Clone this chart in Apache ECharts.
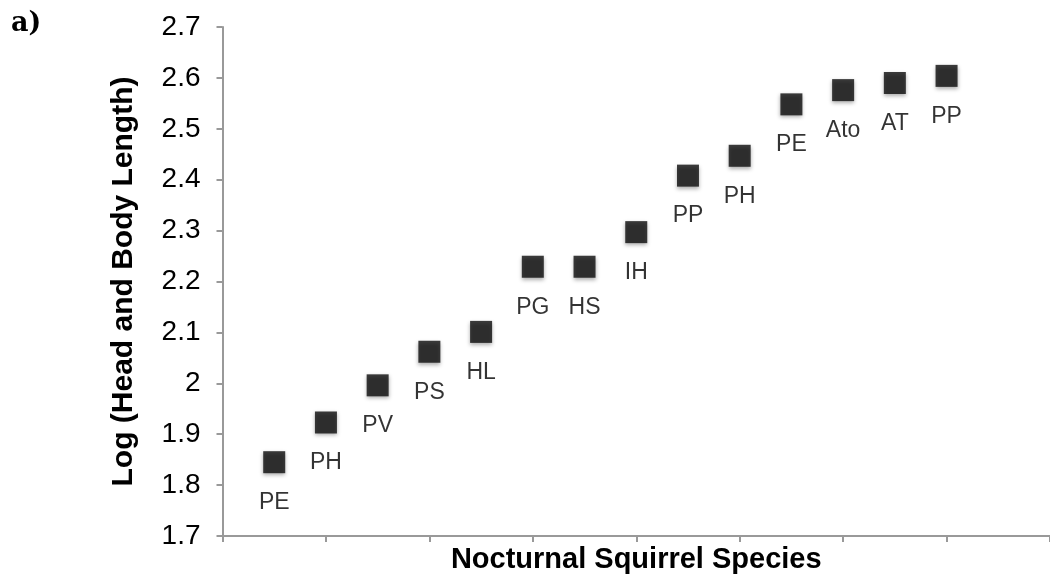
<!DOCTYPE html>
<html>
<head>
<meta charset="utf-8">
<script src="https://cdn.jsdelivr.net/npm/echarts@6/dist/echarts.min.js"></script>
<style>
html,body{margin:0;padding:0;background:#fff;}
#chart{width:1050px;height:579px;}
</style>
</head>
<body>
<div id="chart"></div>
<script>
var species = ['PE','PH','PV','PS','HL','PG','HS','IH','PP','PH','PE','Ato','AT','PP'];
var positions = [1,2,3,4,5,6,7,8,9,10,11,12,13,14];
var logLength = [1.845,1.923,1.996,2.062,2.101,2.229,2.229,2.297,2.408,2.447,2.548,2.576,2.590,2.604];
var yTicks = [1.7,1.8,1.9,2.0,2.1,2.2,2.3,2.4,2.5,2.6,2.7];
var xTitle = 'Nocturnal Squirrel Species';
var yTitle = 'Log (Head and Body Length)';
var panelLabel = 'a)';

var FONT = '"Liberation Sans", Arial, Helvetica, sans-serif';
var chart = echarts.init(document.getElementById('chart'), null, {renderer:'canvas'});
var pts = positions.map(function(x,i){ return {value:[x, logLength[i]], name: species[i]}; });

chart.setOption({
  animation:false,
  backgroundColor:'#fff',
  graphic:[{type:'text', left:11, top:10, style:{text:panelLabel, font:'bold 27px "DejaVu Serif", "Liberation Serif", serif', fill:'#000'}}],
  grid:{left:222.5, top:27, width:832, height:510},
  xAxis:{
    type:'value', min:0, max:16, interval:2,
    axisLine:{show:true, lineStyle:{color:'#999', width:2}},
    axisTick:{show:true, length:6, lineStyle:{color:'#999', width:2}},
    axisLabel:{show:false},
    splitLine:{show:false},
    name:xTitle, nameLocation:'middle', nameGap:9,
    nameTextStyle:{fontFamily:FONT, fontWeight:'bold', fontSize:29, color:'#000', verticalAlign:'top'}
  },
  yAxis:{
    type:'value', min:yTicks[0], max:yTicks[yTicks.length-1], interval:0.1,
    axisLine:{show:true, lineStyle:{color:'#999', width:2}},
    axisTick:{show:true, length:6, lineStyle:{color:'#999', width:2}},
    axisLabel:{margin:22, fontFamily:FONT, fontSize:28, color:'#000',
      formatter:function(v){ return String(Math.round(v*10)/10); }},
    splitLine:{show:false},
    name:yTitle, nameLocation:'middle', nameGap:84, nameRotate:90,
    nameTextStyle:{fontFamily:FONT, fontWeight:'bold', fontSize:30, color:'#000'}
  },
  series:[{
    type:'scatter', symbol:'rect', symbolSize:22,
    itemStyle:{color:'#0d0d0d', shadowBlur:4, shadowColor:'rgba(0,0,0,0.4)', shadowOffsetY:2},
    label:{show:true, position:'bottom', distance:18, formatter:'{b}', fontFamily:FONT, fontSize:23, color:'#000'},
    data:pts
  }]
});
</script>
</body>
</html>
